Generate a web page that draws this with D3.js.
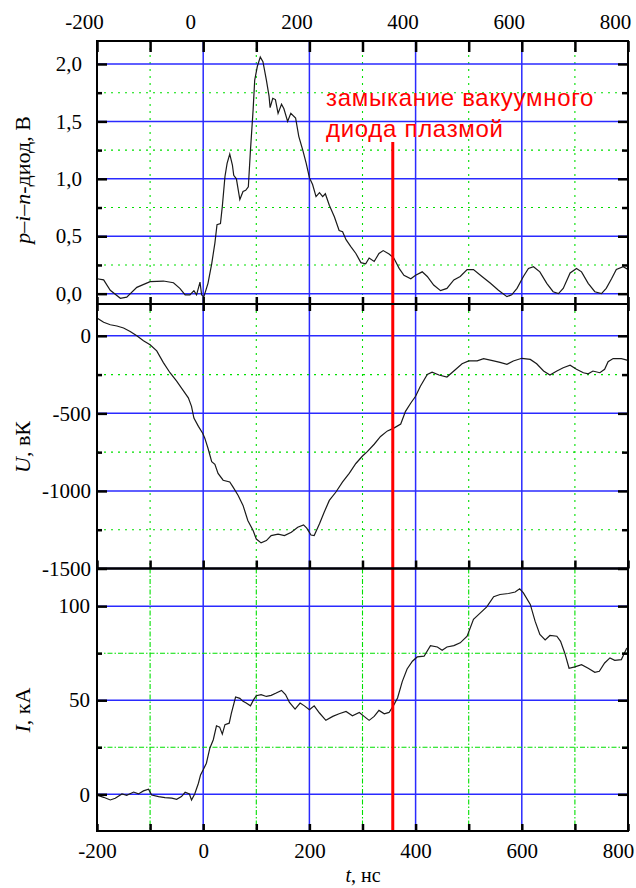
<!DOCTYPE html>
<html>
<head>
<meta charset="utf-8">
<script src="https://cdn.jsdelivr.net/npm/d3@7"></script>
<style>
body { margin: 0; background: #fff; }
svg text { font-family: "Liberation Serif", "Times New Roman", serif; }
svg text.note { font-family: "Liberation Sans", Arial, sans-serif; }
</style>
</head>
<body>
<div id="vis"></div>
<script>
const frame_width = 636;
const frame_height = 888;

// time axis (ns)
const timeTicks = [-200, -100, 0, 100, 200, 300, 400, 500, 600, 700, 800];
const timeLabels = [-200, 0, 200, 400, 600, 800];
const timeBlueGrid = [0, 200, 400, 600];
const timeGreenGrid = [-100, 100, 300, 500, 700];

// p-i-n diode, V
const pinMajor = [0, 0.5, 1.0, 1.5, 2.0];
const pinMinor = [0.25, 0.75, 1.25, 1.75];
const pinT = [-200,-187.5,-175,-156,-144,-125,-100,-75,-56,-44,-34,-25,-17.5,-12.5,-6,-3,1,9,16,22,26,32.5,36,41,45,50,55,57.5,62.5,69,75,80,85,89,94,97,102,107.5,112.5,119,124,126,131,136,141,147.5,152,159,165,174,180,187.5,194,200,206,212.5,219,225,230,237.5,247,256,262.5,269,278,287.5,297,306,312.5,322,331,339,350,359,369,378,391,400,412.5,422,434,447,459,472,484,497,509,525,541,556,572,581,591,603,612.5,622,634,647,659,669,678,691,703,712.5,725,737.5,750,759,769,778,791,800];
const pinV = [0.13,0.12,0.03,-0.04,-0.03,0.055,0.105,0.11,0.095,0.046,-0.01,-0.01,0.026,-0.01,0.10,-0.01,-0.03,0.09,0.26,0.44,0.60,0.61,0.76,1.02,1.135,1.216,1.12,1.03,1.00,0.82,0.89,0.90,0.93,1.25,1.60,1.86,1.98,2.06,2.02,1.86,1.72,1.62,1.70,1.69,1.57,1.65,1.61,1.50,1.57,1.53,1.37,1.25,1.135,1.01,0.95,0.845,0.88,0.845,0.87,0.77,0.67,0.55,0.54,0.47,0.41,0.35,0.27,0.26,0.31,0.28,0.35,0.375,0.345,0.31,0.22,0.16,0.13,0.16,0.19,0.15,0.075,0.026,0.046,0.12,0.15,0.21,0.21,0.15,0.09,0.03,-0.026,-0.01,0.046,0.15,0.22,0.235,0.19,0.09,0.017,0,0.046,0.18,0.22,0.19,0.09,0.017,0,0.046,0.13,0.21,0.235,0.21];

// U, kV
const uMajor = [0, -500, -1000, -1500];
const uMinor = [-250, -750, -1250];
const uT = [-200,-187.5,-175,-162.5,-150,-137.5,-125,-112.5,-100,-87.5,-75,-62.5,-50,-37.5,-28,-22,-17.5,-9,-1,3,9,16,22,28,37.5,50,56,65.6,75,84,94,100,109,119,128,141,153,166,178,189,195,203,209,219,228,237.5,250,262.5,275,287.5,300,309,322,334,347,359,372,381,391,400,409,422,431,444,459,472,487.5,500,516,528,547,559,572,584,600,616,628,641,653,666,678,691,703,716,725,734,747,756,762.5,772,787.5,800];
const uV = [115,87,71,63,50,28,0,-32,-58,-97,-173,-238,-292,-353,-400,-455,-530,-584,-628,-660,-725,-812,-829,-887,-931,-942,-974,-1028,-1093,-1190,-1255,-1310,-1335,-1320,-1288,-1279,-1288,-1266,-1234,-1219,-1240,-1284,-1288,-1212,-1136,-1061,-1007,-942,-887,-823,-775,-747,-699,-649,-613,-595,-569,-487,-433,-390,-325,-249,-234,-253,-266,-227,-180,-162,-162,-147,-162,-171,-184,-162,-145,-152,-180,-227,-253,-227,-206,-190,-216,-238,-245,-227,-238,-216,-167,-147,-147,-158];

// I, kA
const iMajor = [0, 50, 100];
const iMinor = [25, 75];
const iT = [-200,-187.5,-175,-165.6,-153,-144,-131,-122,-112.5,-103,-97,-84,-72,-59,-50,-41,-34,-26,-22,-16,-9,-5,0,6,12.5,19,25,31,36,41,49,53,61,69,75,81,89,95,100,109,119,128,137.5,147.5,155,162.5,173,182.5,190.6,200,209,219,231,244,256,269,281,294,303,312.5,322,331,341,350,358,366,375,384,394,403,416,428,441,450,459,472,484,497,509,522,534,547,559,575,587.5,596,603,616,625,634,644,653,666,673,681,689,700,712.5,725,737.5,746,756,766,775,787.5,797,800];
const iV = [-0.4,-1.6,-3,-2.1,0.2,-0.5,1.2,0.2,1.8,2.7,-0.4,-1.2,-1.8,-2,-2.7,-1.2,1.1,0.2,-3,0.2,5.9,10.3,13,16.5,24.5,29,36.4,35.7,32,37,37.8,43,51.7,51,49.4,48.5,47,50.3,52.4,53,52,52.6,53.8,55.2,53,48.8,45.3,48.5,47,45,47,43.2,39.3,41.4,42.8,44,41.7,43.5,41.4,39.3,41.4,44.6,42.8,43.5,47,51.2,60,66.6,70.7,73,73.4,79,78.3,76.6,78.3,79,80.5,84,93,96.4,99.6,105,106.2,106.7,107.5,109.2,107,100.9,92,85,82,84.4,84,81.3,75,67,67.7,68.9,67,64.8,65.4,69.8,72.5,71.2,71.6,77.3,78];

// plasma closure of the vacuum diode
const closureT = 357;
const closureText = ["замыкание вакуумного", "диода плазмой"];

const PLOT_LEFT = 97;
const PLOT_RIGHT = 628;
const BLUE = "#2a2aff";
const GREEN = "#00e000";
const SERIF = "'Liberation Serif', 'Times New Roman', serif";

const FRAME =
d3.select("#vis")
    .append("svg")
        .attr("width", frame_width)
        .attr("height", frame_height);

const X_SCALE = d3.scaleLinear()
    .domain([-200, 800])
    .range([PLOT_LEFT, PLOT_RIGHT]);

const commaFmt = (d) => d3.format(".1f")(d).replace(".", ",");

const panels = [
    {top: 41, bottom: 304, domain: [-0.09, 2.2], major: pinMajor, minor: pinMinor,
     t: pinT, v: pinV, fmt: commaFmt, pad: 15, dash: "2,5", titleY: 180},
    {top: 304, bottom: 568.5, domain: [-1500, 205], major: uMajor, minor: uMinor,
     t: uT, v: uV, fmt: (d) => String(d), pad: 6, dash: "2,5", titleY: 447},
    {top: 568.5, bottom: 831, domain: [-19.5, 120], major: iMajor, minor: iMinor,
     t: iT, v: iV, fmt: (d) => String(d), pad: 7, dash: "5,2,1.5,2", titleY: 710}
];

// blue vertical grid through all panels
FRAME.selectAll(".vblue")
    .data(timeBlueGrid)
    .enter()
    .append("line")
        .attr("x1", (d) => X_SCALE(d))
        .attr("x2", (d) => X_SCALE(d))
        .attr("y1", 41)
        .attr("y2", 831)
        .attr("stroke", BLUE)
        .attr("stroke-width", 1.5);

panels.forEach((p, k) => {
    const Y_SCALE = d3.scaleLinear()
        .domain(p.domain)
        .range([p.bottom, p.top]);
    p.y = Y_SCALE;

    // green vertical grid
    FRAME.selectAll(".vgreen" + k)
        .data(timeGreenGrid)
        .enter()
        .append("line")
            .attr("x1", (d) => X_SCALE(d))
            .attr("x2", (d) => X_SCALE(d))
            .attr("y1", p.top)
            .attr("y2", p.bottom)
            .attr("stroke", GREEN)
            .attr("stroke-width", 1.1)
            .attr("stroke-dasharray", p.dash);

    // horizontal grid
    FRAME.selectAll(".hgreen" + k)
        .data(p.minor)
        .enter()
        .append("line")
            .attr("x1", PLOT_LEFT)
            .attr("x2", PLOT_RIGHT)
            .attr("y1", (d) => Y_SCALE(d))
            .attr("y2", (d) => Y_SCALE(d))
            .attr("stroke", GREEN)
            .attr("stroke-width", 1.1)
            .attr("stroke-dasharray", p.dash);

    FRAME.selectAll(".hblue" + k)
        .data(p.major)
        .enter()
        .append("line")
            .attr("x1", PLOT_LEFT)
            .attr("x2", PLOT_RIGHT)
            .attr("y1", (d) => Y_SCALE(d))
            .attr("y2", (d) => Y_SCALE(d))
            .attr("stroke", BLUE)
            .attr("stroke-width", 1.5);

    // the signal
    FRAME.append("clipPath")
        .attr("id", "clip" + k)
        .append("rect")
            .attr("x", PLOT_LEFT)
            .attr("y", p.top)
            .attr("width", PLOT_RIGHT - PLOT_LEFT)
            .attr("height", p.bottom - p.top);

    const line = d3.line()
        .x((d, i) => X_SCALE(p.t[i]))
        .y((d) => Y_SCALE(d));

    FRAME.append("path")
        .datum(p.v)
        .attr("clip-path", "url(#clip" + k + ")")
        .attr("d", line)
        .attr("fill", "none")
        .attr("stroke", "#1a1a1a")
        .attr("stroke-width", 1.2);
});

// red marker of plasma closure
FRAME.append("line")
    .attr("x1", X_SCALE(closureT))
    .attr("x2", X_SCALE(closureT))
    .attr("y1", 142)
    .attr("y2", 831)
    .attr("stroke", "#ff0000")
    .attr("stroke-width", 3);

FRAME.selectAll(".note")
    .data(closureText)
    .enter()
    .append("text")
        .attr("class", "note")
        .attr("x", 326)
        .attr("y", (d, i) => 106 + i * 30.5)
        .attr("font-size", "24px")
        .attr("letter-spacing", "0.7px")
        .attr("fill", "#ff0000")
        .text((d) => d);

// frames and axes
panels.forEach((p, k) => {
    FRAME.append("rect")
        .attr("x", PLOT_LEFT)
        .attr("y", p.top)
        .attr("width", PLOT_RIGHT - PLOT_LEFT)
        .attr("height", p.bottom - p.top)
        .attr("fill", "none")
        .attr("stroke", "#000")
        .attr("stroke-width", 2);

    //left axis with labels
    FRAME.append("g")
        .attr("transform", "translate(" + PLOT_LEFT + ",0)")
        .call(d3.axisLeft(p.y).tickValues(p.major).tickSizeInner(-10).tickSizeOuter(0)
            .tickPadding(p.pad).tickFormat(p.fmt))
        .call((g) => g.select(".domain").remove())
        .call((g) => g.selectAll("line").attr("stroke-width", 2.5))
        .call((g) => g.selectAll("text").style("font-family", SERIF).style("font-size", "21px"));

    FRAME.append("g")
        .attr("transform", "translate(" + PLOT_LEFT + ",0)")
        .call(d3.axisLeft(p.y).tickValues(p.minor).tickSizeInner(-5).tickSizeOuter(0).tickFormat(""))
        .call((g) => g.select(".domain").remove())
        .call((g) => g.selectAll("line").attr("stroke-width", 2.5));

    //right axis
    FRAME.append("g")
        .attr("transform", "translate(" + PLOT_RIGHT + ",0)")
        .call(d3.axisRight(p.y).tickValues(p.major).tickSizeInner(-10).tickSizeOuter(0).tickFormat(""))
        .call((g) => g.select(".domain").remove())
        .call((g) => g.selectAll("line").attr("stroke-width", 2.5));

    FRAME.append("g")
        .attr("transform", "translate(" + PLOT_RIGHT + ",0)")
        .call(d3.axisRight(p.y).tickValues(p.minor).tickSizeInner(-6).tickSizeOuter(0).tickFormat(""))
        .call((g) => g.select(".domain").remove())
        .call((g) => g.selectAll("line").attr("stroke-width", 2.5));
});

// top time axis
FRAME.append("g")
    .attr("transform", "translate(0,41)")
    .call(d3.axisTop(X_SCALE).tickValues(timeTicks).tickSizeInner(-11).tickSizeOuter(0)
        .tickPadding(12).tickFormat((d) => timeLabels.includes(d) ? String(d) : ""))
    .call((g) => g.select(".domain").remove())
    .call((g) => g.selectAll("line").attr("stroke-width", 2.5))
    .call((g) => g.selectAll("text").attr("dx", -13)
        .style("font-family", SERIF).style("font-size", "21px"));

// ticks across the panel borders
FRAME.append("g")
    .attr("transform", "translate(0,297)")
    .call(d3.axisBottom(X_SCALE).tickValues(timeTicks).tickSizeInner(14).tickSizeOuter(0).tickFormat(""))
    .call((g) => g.select(".domain").remove())
    .call((g) => g.selectAll("line").attr("stroke-width", 2.5));

FRAME.append("g")
    .attr("transform", "translate(0,568.5)")
    .call(d3.axisTop(X_SCALE).tickValues(timeTicks).tickSizeInner(8).tickSizeOuter(0).tickFormat(""))
    .call((g) => g.select(".domain").remove())
    .call((g) => g.selectAll("line").attr("stroke-width", 2.5));

// bottom time axis
FRAME.append("g")
    .attr("transform", "translate(0,831)")
    .call(d3.axisBottom(X_SCALE).tickValues(timeTicks).tickSizeInner(-7).tickSizeOuter(0)
        .tickPadding(12).tickFormat((d) => timeLabels.includes(d) ? String(d) : ""))
    .call((g) => g.select(".domain").remove())
    .call((g) => g.selectAll("line").attr("stroke-width", 2.5))
    .call((g) => g.selectAll("text").style("font-family", SERIF).style("font-size", "21px"))
    .call((g) => g.selectAll("text").filter((d) => d === 800).attr("dx", -10));

// axis titles
const titles = [
    [["p", true], ["–", false], ["i", true], ["–", false], ["n", true], ["-диод, В", false]],
    [["U", true], [", вК", false]],
    [["I", true], [", кА", false]]
];

titles.forEach((parts, k) => {
    const t = FRAME.append("text")
        .attr("transform", "translate(30," + panels[k].titleY + ") rotate(-90)")
        .attr("text-anchor", "middle")
        .attr("font-size", "22px");
    parts.forEach((s) => {
        t.append("tspan")
            .attr("font-style", s[1] ? "italic" : "normal")
            .text(s[0]);
    });
});

const xTitle = FRAME.append("text")
    .attr("x", 363)
    .attr("y", 882)
    .attr("text-anchor", "middle")
    .attr("font-size", "20px");
xTitle.append("tspan").attr("font-style", "italic").text("t");
xTitle.append("tspan").text(", нс");
</script>
</body>
</html>
